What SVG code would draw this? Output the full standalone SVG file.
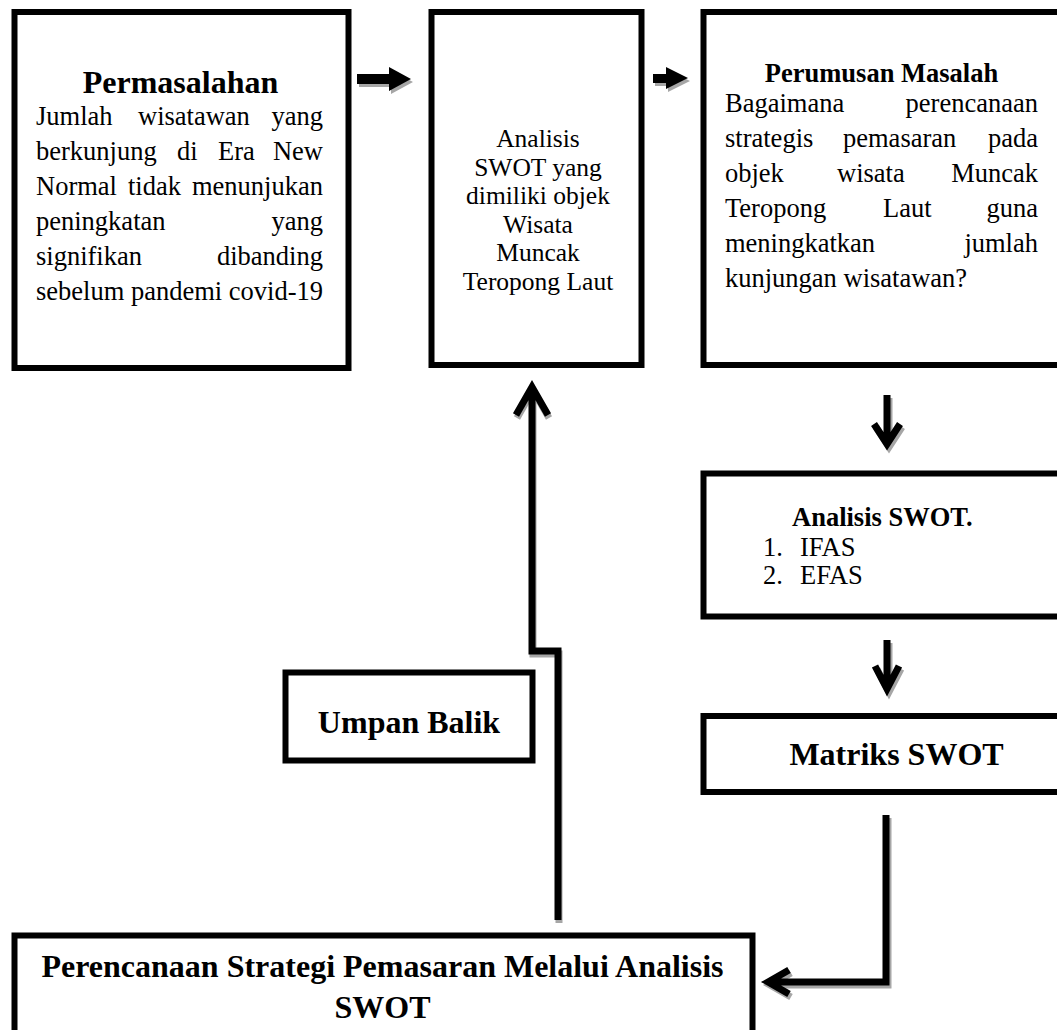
<svg xmlns="http://www.w3.org/2000/svg" width="1057" height="1030" viewBox="0 0 1057 1030">
<style>
.box{fill:#fff;stroke:#000;stroke-width:6}
.t{font-family:"Liberation Serif","Times New Roman",serif;font-size:26.5px;fill:#000}
.s{font-size:25.5px}
.b{font-weight:bold}
.h{font-size:32px}
.e{text-anchor:end}
.m{text-anchor:middle}
.ln{fill:none;stroke:#000;stroke-width:7;stroke-linejoin:miter}
.sh{fill:none;stroke:#a6a6a6;stroke-width:7}
.shf{fill:#a6a6a6}
</style>
<rect width="1057" height="1030" fill="#fff"/>
<g id="connectors">
  <path class="shf" transform="translate(2,3)" d="M357,74 H389 V67 L411,79 L389,91 V84 H357 Z"/>
  <path d="M357,74 H389 V67 L411,79 L389,91 V84 H357 Z"/>
  <path class="shf" transform="translate(2,3)" d="M653,74 H666 V67 L688,78 L666,89 V83 H653 Z"/>
  <path d="M653,74 H666 V67 L688,78 L666,89 V83 H653 Z"/>
  <g transform="translate(2,3)"><path class="sh" d="M887,395 V444 M874,424 L887,444 L900,424"/></g>
  <path class="ln" d="M887,395 V444 M874,424 L887,444 L900,424"/>
  <g transform="translate(2,3)"><path class="sh" d="M887,640 V689 M875,666 L887,689 L899,666"/></g>
  <path class="ln" d="M887,640 V689 M875,666 L887,689 L899,666"/>
  <g transform="translate(2,3)"><path class="sh" d="M886,815 V982 H768 M789,970 L768,982 L789,994"/></g>
  <path class="ln" d="M886,815 V982 H768 M789,970 L768,982 L789,994"/>
  <g transform="translate(1,3)"><path class="sh" d="M558,920 V651 H532 V387 M516,415 L532,387 L548,415"/></g>
  <path class="ln" d="M558,920 V651 H532 V387 M516,415 L532,387 L548,415"/>
</g>
<g id="permasalahan">
  <rect class="box" x="14.5" y="12" width="334" height="356"/>
  <text class="t b h m" x="180.5" y="93">Permasalahan</text>
  <text class="t" y="125"><tspan x="36">Jumlah</tspan><tspan x="138">wisatawan</tspan></text>
  <text class="t e" x="323" y="125">yang</text>
  <text class="t" y="160"><tspan x="36">berkunjung</tspan><tspan x="177">di</tspan><tspan x="218">Era</tspan></text>
  <text class="t e" x="323" y="160">New</text>
  <text class="t" y="195"><tspan x="36">Normal</tspan><tspan x="128">tidak</tspan></text>
  <text class="t e" x="323" y="195">menunjukan</text>
  <text class="t" x="36" y="230">peningkatan</text>
  <text class="t e" x="323" y="230">yang</text>
  <text class="t" x="36" y="265">signifikan</text>
  <text class="t e" x="323" y="265">dibanding</text>
  <text class="t" x="36" y="300">sebelum pandemi covid-19</text>
</g>
<g id="analisis-swot-objek">
  <rect class="box" x="431.5" y="12" width="210" height="353"/>
  <text class="t s m" x="538" y="147">Analisis</text>
  <text class="t s m" x="538" y="175.5">SWOT yang</text>
  <text class="t s m" x="538" y="204">dimiliki objek</text>
  <text class="t s m" x="538" y="232.5">Wisata</text>
  <text class="t s m" x="538" y="261">Muncak</text>
  <text class="t s m" x="538" y="289.5">Teropong Laut</text>
</g>
<g id="perumusan-masalah">
  <rect class="box" x="703.5" y="12" width="400" height="353"/>
  <text class="t b m" x="881.5" y="82">Perumusan Masalah</text>
  <text class="t" x="725" y="112">Bagaimana</text>
  <text class="t e" x="1038" y="112">perencanaan</text>
  <text class="t" y="147"><tspan x="725">strategis</tspan><tspan x="843">pemasaran</tspan></text>
  <text class="t e" x="1038" y="147">pada</text>
  <text class="t" y="182"><tspan x="725">objek</tspan><tspan x="837">wisata</tspan></text>
  <text class="t e" x="1038" y="182">Muncak</text>
  <text class="t" y="217"><tspan x="725">Teropong</tspan><tspan x="883">Laut</tspan></text>
  <text class="t e" x="1038" y="217">guna</text>
  <text class="t" x="725" y="252">meningkatkan</text>
  <text class="t e" x="1038" y="252">jumlah</text>
  <text class="t" x="725" y="287">kunjungan wisatawan?</text>
</g>
<g id="analisis-swot">
  <rect class="box" x="703.5" y="473.5" width="400" height="143"/>
  <text class="t b" x="792" y="526">Analisis SWOT.</text>
  <text class="t" y="556"><tspan x="763">1.</tspan><tspan x="800">IFAS</tspan></text>
  <text class="t" y="584"><tspan x="763">2.</tspan><tspan x="800">EFAS</tspan></text>
</g>
<g id="matriks-swot">
  <rect class="box" x="703.5" y="716" width="400" height="76"/>
  <text class="t b h m" x="896.5" y="765">Matriks SWOT</text>
</g>
<g id="umpan-balik">
  <rect class="box" x="285.5" y="672.5" width="247" height="88"/>
  <text class="t b h m" x="409" y="733">Umpan Balik</text>
</g>
<g id="perencanaan-strategi">
  <rect class="box" x="14.5" y="935.5" width="738" height="120"/>
  <text class="t b h m" x="382.5" y="977">Perencanaan Strategi Pemasaran Melalui Analisis</text>
  <text class="t b h m" x="382.5" y="1018">SWOT</text>
</g>
</svg>
